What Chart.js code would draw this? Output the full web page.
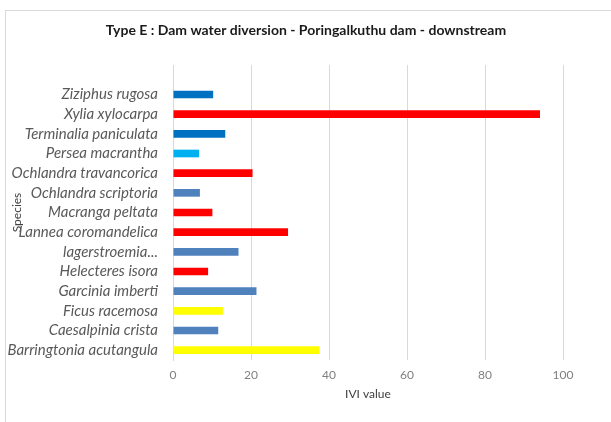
<!DOCTYPE html>
<html>
<head>
<meta charset="utf-8">
<script src="https://cdn.jsdelivr.net/npm/chart.js@4"></script>
<style>
  html, body { margin: 0; padding: 0; background: #ffffff; }
  #wrap { width: 611px; height: 422px; position: relative; }
</style>
</head>
<body>
<div id="wrap"><canvas id="c" width="611" height="422"></canvas></div>
<script>
// Species listed top to bottom; the first row is an empty spacer row.
const species = [
  "",
  "Ziziphus rugosa",
  "Xylia xylocarpa",
  "Terminalia paniculata",
  "Persea macrantha",
  "Ochlandra travancorica",
  "Ochlandra scriptoria",
  "Macranga peltata",
  "Lannea coromandelica",
  "lagerstroemia...",
  "Helecteres isora",
  "Garcinia imberti",
  "Ficus racemosa",
  "Caesalpinia crista",
  "Barringtonia acutangula"
];

// IVI value per species
const iviValues = [
  null, 10.3, 94.1, 13.4, 6.7, 20.4, 6.9, 10.1, 29.5, 16.8, 9.0, 21.4, 12.8, 11.6, 37.6
];

// Bar colour per species
const barColors = [
  "#ffffff", "#0070C0", "#FF0000", "#0070C0", "#00B0F0", "#FF0000", "#4F81BD", "#FF0000",
  "#FF0000", "#4F81BD", "#FF0000", "#4F81BD", "#FFFF00", "#4F81BD", "#FFFF00"
];

const xTicks = [0, 20, 40, 60, 80, 100];

const titleText = "Type E : Dam water diversion - Poringalkuthu dam - downstream";

// Light outer frame and the chart heading
const framePlugin = {
  id: "frame",
  beforeDraw(chart) {
    const ctx = chart.ctx;
    ctx.save();
    ctx.fillStyle = "#ffffff";
    ctx.fillRect(0, 0, chart.width, chart.height);
    ctx.strokeStyle = "#d9d9d9";
    ctx.lineWidth = 1;
    ctx.strokeRect(5.5, 10.5, chart.width + 20, chart.height + 20);
    ctx.restore();
  },
  afterDraw(chart) {
    const ctx = chart.ctx;
    ctx.save();
    ctx.fillStyle = "#1a1a1a";
    ctx.font = "bold 14px Lato";
    ctx.textAlign = "center";
    ctx.textBaseline = "middle";
    ctx.fillText(titleText, 306, 30);
    ctx.restore();
  }
};

new Chart(document.getElementById("c"), {
  type: "bar",
  data: {
    labels: species,
    datasets: [{
      label: "IVI value",
      data: iviValues,
      backgroundColor: barColors,
      borderWidth: 0,
      barPercentage: 0.39,
      categoryPercentage: 1.0
    }]
  },
  options: {
    indexAxis: "y",
    responsive: false,
    animation: false,
    layout: { padding: { left: 0, right: 48, top: 65, bottom: 12 } },
    plugins: {
      legend: { display: false },
      tooltip: { enabled: false },
      title: { display: false }
    },
    scales: {
      x: {
        type: "linear",
        min: 0,
        max: 100,
        afterBuildTicks(scale) {
          scale.ticks = xTicks.map(v => ({ value: v }));
        },
        afterFit(scale) { scale.height = 50; },
        grid: { color: "#d9d9d9", lineWidth: 1, drawTicks: false },
        border: { display: false },
        ticks: {
          padding: 8,
          color: "#808080",
          font: { family: "Lato", size: 12 }
        },
        title: {
          display: true,
          text: "IVI value",
          color: "#404040",
          font: { family: "Lato", size: 12 },
          padding: { top: 0, bottom: 9 }
        }
      },
      y: {
        afterFit(scale) { scale.width = 173; },
        grid: { display: false, drawTicks: false },
        border: { display: true, color: "#d9d9d9", width: 1 },
        ticks: {
          padding: 15,
          color: "#595959",
          autoSkip: false,
          font: { family: "Lato", size: 15, style: "italic" }
        },
        title: {
          display: true,
          text: "Species",
          color: "#404040",
          font: { family: "Lato", size: 12 },
          padding: { top: 10, bottom: 0 }
        }
      }
    }
  },
  plugins: [framePlugin]
});
</script>
</body>
</html>
